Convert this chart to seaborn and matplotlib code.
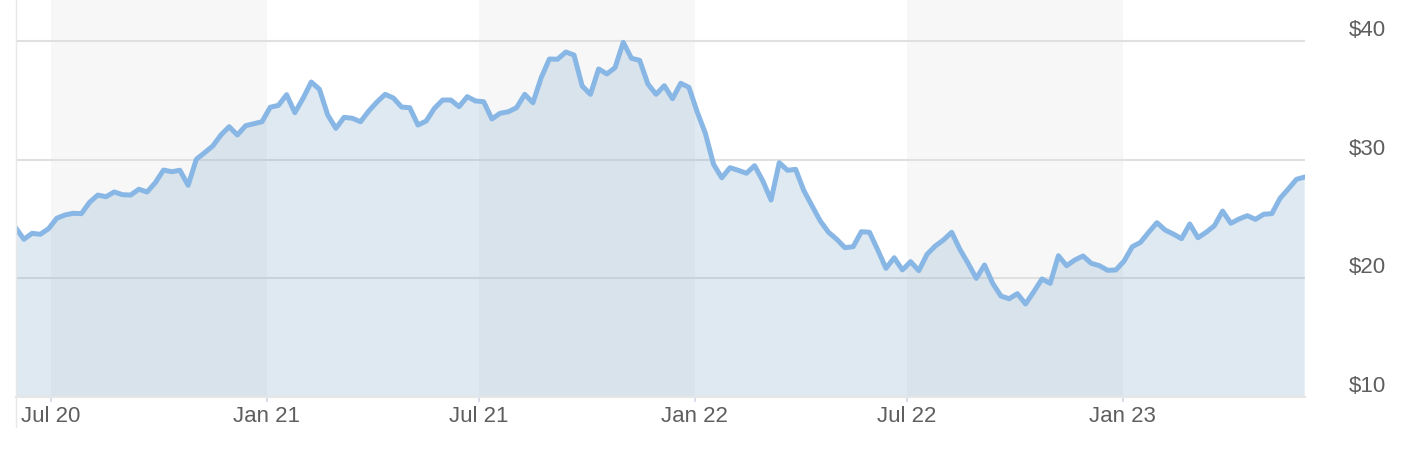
import numpy as np
import pandas as pd
import matplotlib
matplotlib.use("Agg")
import matplotlib.pyplot as plt
import seaborn as sns

# weekly closing price
start_date = "2020-06-01"
price = [
    24.24, 23.27, 23.77, 23.69, 24.16, 25.04, 25.32, 25.46, 25.43, 26.39,
    27.00, 26.86, 27.26, 27.03, 27.00, 27.49, 27.26, 28.04, 29.11, 28.97,
    29.09, 27.82, 30.02, 30.57, 31.14, 32.07, 32.77, 32.07, 32.85, 33.02,
    33.19, 34.41, 34.57, 35.47, 33.95, 35.16, 36.54, 35.92, 33.76, 32.63,
    33.56, 33.48, 33.19, 34.09, 34.85, 35.50, 35.19, 34.43, 34.37, 32.91,
    33.25, 34.32, 35.02, 35.02, 34.46, 35.30, 34.94, 34.88, 33.42, 33.90,
    34.03, 34.37, 35.50, 34.79, 36.90, 38.48, 38.46, 39.07, 38.82, 36.20,
    35.50, 37.64, 37.22, 37.75, 39.89, 38.54, 38.37, 36.37, 35.50, 36.23,
    35.13, 36.43, 36.09, 34.03, 32.21, 29.59, 28.46, 29.31, 29.09, 28.84,
    29.48, 28.19, 26.58, 29.73, 29.09, 29.17, 27.37, 26.08, 24.81, 23.86,
    23.27, 22.56, 22.64, 23.91, 23.86, 22.36, 20.82, 21.71, 20.68, 21.38,
    20.62, 22.00, 22.70, 23.21, 23.86, 22.42, 21.24, 19.97, 21.10, 19.55,
    18.48, 18.25, 18.68, 17.81, 18.84, 19.92, 19.55, 21.88, 21.04, 21.52,
    21.86, 21.24, 21.04, 20.65, 20.68, 21.43, 22.64, 23.01, 23.86, 24.67,
    24.05, 23.71, 23.32, 24.56, 23.40, 23.86, 24.41, 25.65, 24.62, 24.98,
    25.26, 24.95, 25.38, 25.43, 26.73, 27.51, 28.33, 28.52,
]
y_ticks = [10, 20, 30, 40]
x_ticks = ["2020-07-01", "2021-01-01", "2021-07-01", "2022-01-01", "2022-07-01", "2023-01-01"]
x_labels = ["Jul 20", "Jan 21", "Jul 21", "Jan 22", "Jul 22", "Jan 23"]
bands = [("2020-07-01", "2021-01-01"), ("2021-07-01", "2022-01-01"), ("2022-07-01", "2023-01-01")]

df = pd.DataFrame({
    "date": pd.date_range(start_date, periods=len(price), freq="7D"),
    "price": price,
})

sns.set_theme(style="white")
plt.rcParams["font.family"] = ["Liberation Sans", "DejaVu Sans"]

line_c = "#88b7e5"
text_c = "#5e5e5e"

fig = plt.figure(figsize=(14.01, 4.49), dpi=100)
ax = fig.add_axes([15.7 / 1401, 1 - 397 / 449, 1289 / 1401, 397 / 449])

# half-year shaded bands
for a, b in bands:
    ax.axvspan(pd.Timestamp(a), pd.Timestamp(b), color="#f7f7f7", zorder=0, lw=0)

ax.fill_between(df["date"], df["price"], 0, color="#83abcf", alpha=0.25, lw=0, zorder=2)
sns.lineplot(data=df, x="date", y="price", ax=ax, color=line_c, lw=3.6, zorder=3)
ax.lines[-1].set_solid_joinstyle("round")
ax.lines[-1].set_solid_capstyle("round")

ax.set_xlim(df["date"].iloc[0], df["date"].iloc[-1])
ax.set_ylim(9.96, 43.46)

ax.set_yticks(y_ticks)
ax.set_yticklabels([f"${v}" for v in y_ticks])
ax.yaxis.tick_right()
ax.tick_params(axis="y", length=0, pad=32, labelsize=16, labelcolor=text_c)
for lab in ax.get_yticklabels():
    lab.set_verticalalignment("bottom")
ax.grid(axis="y", color="#e0e0e0", lw=1.5, zorder=1)
ax.grid(axis="x", visible=False)
ax.set_axisbelow(True)

ax.set_xticks(pd.to_datetime(x_ticks))
ax.set_xticklabels(x_labels)
ax.tick_params(axis="x", length=3.6, width=1.1, color="#ccd6eb", pad=3,
               labelsize=16, labelcolor=text_c, bottom=True)

for side in ["top", "right", "left"]:
    ax.spines[side].set_visible(False)
ax.spines["bottom"].set_color("#e6e6e6")
ax.spines["bottom"].set_linewidth(1.5)
ax.axvline(df["date"].iloc[0], ymin=-0.076, ymax=1, color="#e8e8e8", lw=1, clip_on=False, zorder=4)

ax.set_xlabel("")
ax.set_ylabel("")

fig.savefig("out.png", dpi=100)
